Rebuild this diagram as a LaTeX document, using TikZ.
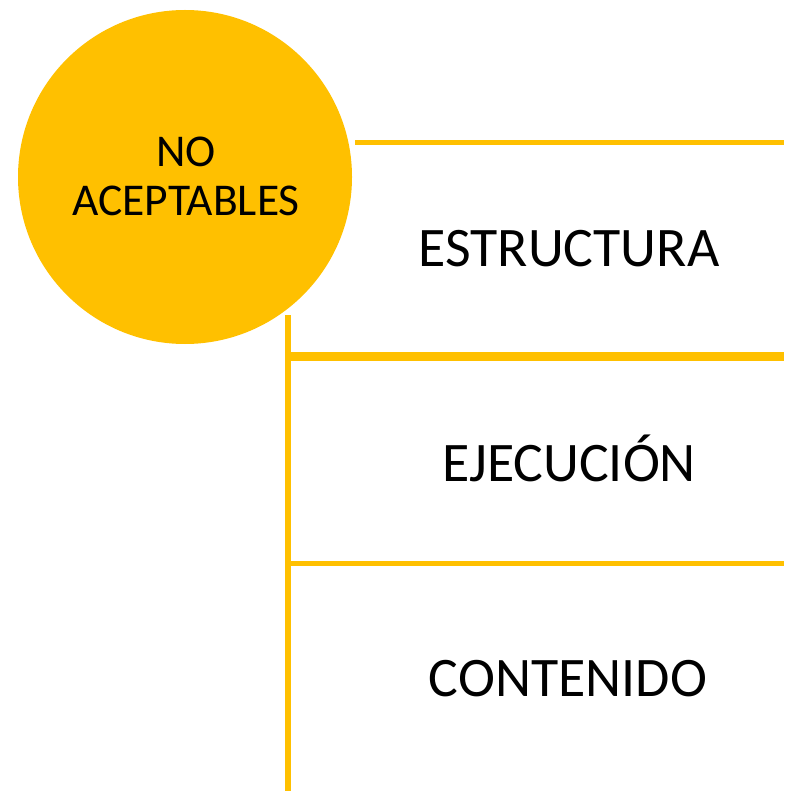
\documentclass[tikz,border=0pt]{standalone}
\usepackage{fontspec}
\setmainfont{Carlito}
\definecolor{gold}{HTML}{FFC000}
\begin{document}
\begin{tikzpicture}[x=1pt,y=-1pt,
  rule/.style={draw=gold,line width=5pt},
  bigtext/.style={font=\fontsize{55.8}{60}\selectfont,anchor=base,inner sep=0pt},
  circtext/.style={font=\fontsize{45.5}{50}\selectfont,anchor=base,inner sep=0pt}]
\useasboundingbox (0,0) rectangle (784,791);
\fill[gold] (185,177) circle (167);
\node[circtext] (no) at (186,167) {NO};
\node[circtext] (acep) at (186,216) {ACEPTABLES};
\coordinate (t1) at (355,143);
\coordinate (t2) at (784,143);
\coordinate (m1) at (288,356.5);
\coordinate (m2) at (784,356.5);
\coordinate (b1) at (288,563);
\coordinate (b2) at (784,563);
\coordinate (v1) at (288,315);
\coordinate (v2) at (288,791);
\draw[rule] (t1) -- (t2);
\draw[rule,line width=9pt] (m1) -- (m2);
\draw[rule] (b1) -- (b2);
\draw[rule,line width=6pt] (v1) -- (v2);
\node[bigtext] (est) at (569,266) {ESTRUCTURA};
\node[bigtext] (eje) at (569,481) {EJECUCIÓN};
\node[bigtext] (con) at (568,696) {CONTENIDO};
\end{tikzpicture}
\end{document}
